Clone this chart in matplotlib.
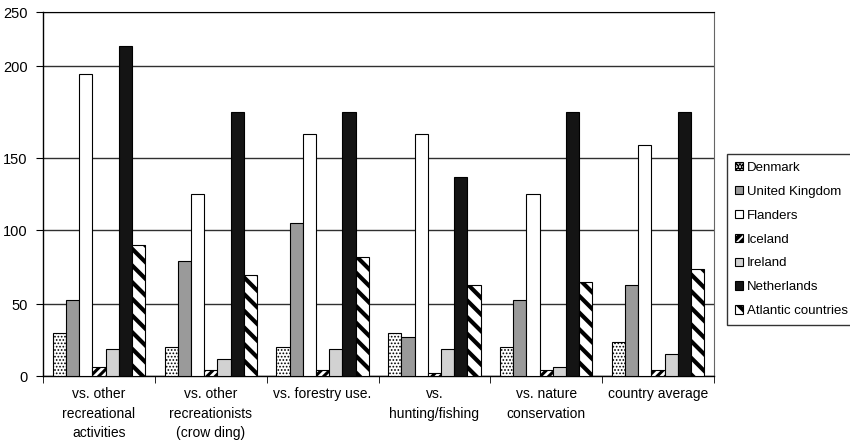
import numpy as np
import matplotlib
matplotlib.use("Agg")
import matplotlib.pyplot as plt

categories = ["vs. other\nrecreational\nactivities",
              "vs. other\nrecreationists\n(crow ding)",
              "vs. forestry use.",
              "vs.\nhunting/fishing",
              "vs. nature\nconservation",
              "country average"]
series_names = ["Denmark", "United Kingdom", "Flanders", "Iceland",
                "Ireland", "Netherlands", "Atlantic countries"]
denmark = [30, 20, 20, 30, 20, 24]
united_kingdom = [53, 79, 105, 27, 53, 63]
flanders = [196, 125, 163, 163, 125, 157]
iceland = [6, 4, 4, 2, 4, 4]
ireland = [19, 12, 19, 19, 6, 15]
netherlands = [219, 175, 175, 137, 175, 175]
atlantic = [90, 70, 82, 63, 65, 74]
y_ticks = [0, 50, 100, 150, 200, 250]

series = [denmark, united_kingdom, flanders, iceland, ireland, netherlands, atlantic]
styles = [
    dict(facecolor="white", hatch=".....", hatch_lw=0.8),
    dict(facecolor="#9a9a9a", hatch=None, hatch_lw=1.0),
    dict(facecolor="white", hatch=None, hatch_lw=1.0),
    dict(facecolor="white", hatch="////", hatch_lw=2.2),
    dict(facecolor="#d2d2d2", hatch=None, hatch_lw=1.0),
    dict(facecolor="#141414", hatch=None, hatch_lw=1.0),
    dict(facecolor="white", hatch="\\\\", hatch_lw=3.0),
]

plt.rcParams['font.family'] = ['Liberation Sans', 'DejaVu Sans']

# piecewise axis as in the original figure
tick_px = [0, 71.7, 145.7, 217.4, 309.0, 363.4]
def fwd(v):
    return np.interp(v, y_ticks, tick_px)
def inv(v):
    return np.interp(v, tick_px, y_ticks)

fig = plt.figure(figsize=(8.5, 4.43), dpi=100)
ax = fig.add_axes([43/850, 1-376/443, (714-43)/850, (376-12)/443])
ax.set_yscale('function', functions=(fwd, inv))

n = len(series)
x = np.arange(len(categories))
bw = 0.118
handles = []
for i, (vals, st, name) in enumerate(zip(series, styles, series_names)):
    plt.rcParams['hatch.linewidth'] = st["hatch_lw"]
    offs = (i - (n - 1) / 2) * bw
    bars = ax.bar(x + offs, vals, bw, facecolor=st["facecolor"], edgecolor="black",
                  linewidth=0.8, hatch=st["hatch"], label=name, zorder=3)
    handles.append(bars)

ax.set_ylim(0, 250)
ax.set_xlim(-0.5, len(categories) - 0.5)
ax.set_yticks(y_ticks)
ax.tick_params(axis='y', labelsize=10.5, length=5, direction='out', pad=6)
ax.grid(axis='y', color='#303030', linewidth=1.0, zorder=0)

ax.set_xticks(x)
ax.set_xticklabels(categories, fontsize=10, linespacing=1.5)
ax.tick_params(axis='x', which='major', length=0, pad=8)
ax.set_xticks(np.arange(len(categories) + 1) - 0.5, minor=True)
ax.tick_params(axis='x', which='minor', length=5, direction='out')

for s in ['left', 'bottom']:
    ax.spines[s].set_color('black')
    ax.spines[s].set_linewidth(1.0)
ax.spines['top'].set_color('black')
ax.spines['right'].set_color('#666666')

leg = fig.legend(handles=handles, labels=series_names, loc='upper left',
                 bbox_to_anchor=(727/850, 1-154/443), fontsize=9.5,
                 frameon=True, fancybox=False, edgecolor='black',
                 handlelength=0.6, handleheight=0.6, handletextpad=0.3,
                 labelspacing=0.9, borderpad=0.6, borderaxespad=0)
leg.get_frame().set_linewidth(1.0)

fig.savefig("out.png", dpi=100)
